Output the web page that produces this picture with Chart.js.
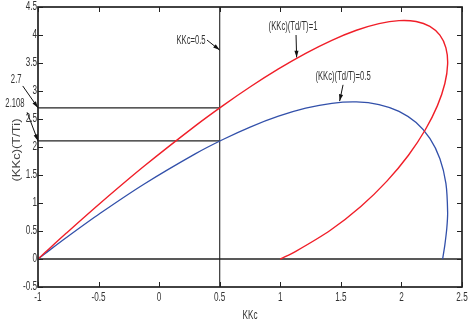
<!DOCTYPE html>
<html>
<head>
<meta charset="utf-8">
<script src="https://cdn.jsdelivr.net/npm/chart.js@4.4.1/dist/chart.umd.min.js"></script>
<style>
  html, body { margin: 0; padding: 0; background: #fff; }
  #wrap { width: 468px; height: 327px; }
</style>
</head>
<body>
<div id="wrap"><canvas id="mycanvas" width="468" height="327"></canvas></div>
<script>
// (KKc)(Td/T)=1 curve
var redKKc = [-1, -0.9403, -0.7653, -0.4866, -0.1228, 0.3012, 0.5267, 0.7561, 0.9851, 1.2097, 1.4255,
  1.6285, 1.8147, 1.9801, 2.1213, 2.2347, 2.3176, 2.3672, 2.3814, 2.3585, 2.2973, 2.1972, 2.0580,
  1.8802, 1.6648, 1.4134, 1.1280, 1];
var redKi = [0, 0.1189, 0.4631, 0.9959, 1.6598, 2.3818, 2.7392, 3.0803, 3.3947, 3.6728, 3.9054,
  4.0846, 4.2035, 4.2568, 4.2409, 4.1540, 3.9964, 3.7704, 3.4805, 3.1337, 2.7391, 2.3077, 1.8533,
  1.3910, 0.9381, 0.5135, 0.1372, 0];
// (KKc)(Td/T)=0.5 curve
var blueKKc = [-1, -0.9403, -0.7653, -0.4866, -0.1228, 0.3012, 0.5267, 0.7561, 0.9851, 1.2097, 1.4255,
  1.6285, 1.8147, 1.9801, 2.1213, 2.2347, 2.3176, 2.3672, 2.3814, 2.3747, 2.3585, 2.34];
var blueKi = [0, 0.0989, 0.3831, 0.8159, 1.3398, 1.8818, 2.1342, 2.3603, 2.5497, 2.6928, 2.7804,
  2.8046, 2.7585, 2.6368, 2.4359, 2.1540, 1.7914, 1.3504, 0.8355, 0.5525, 0.2537, 0];

var refKKc = [0.5];
var refLevels = [2.7, 2.108];
var xTicks = [-1, -0.5, 0, 0.5, 1, 1.5, 2, 2.5];
var yTicks = [-0.5, 0, 0.5, 1, 1.5, 2, 2.5, 3, 3.5, 4, 4.5];

var FONT = "'Liberation Sans', Arial, sans-serif";
var SQ = 0.64; // horizontal squeeze to mimic the narrow font

function pts(xs, ys) {
  return xs.map(function(x, i) { return {x: x, y: ys[i]}; });
}

var datasets = [
  { data: pts(redKKc, redKi), borderColor: 'rgb(240,30,40)', borderWidth: 1.4, tension: 0.3 },
  { data: pts(blueKKc, blueKi), borderColor: 'rgb(50,80,170)', borderWidth: 1.3, tension: 0.3 },
  { data: [{x: xTicks[0], y: 0}, {x: xTicks[xTicks.length - 1], y: 0}], borderColor: '#222', borderWidth: 1.3 },
  { data: [{x: refKKc[0], y: yTicks[0]}, {x: refKKc[0], y: yTicks[yTicks.length - 1]}], borderColor: '#222', borderWidth: 1.1 }
];
refLevels.forEach(function(v) {
  datasets.push({ data: [{x: xTicks[0], y: v}, {x: refKKc[0], y: v}], borderColor: '#222', borderWidth: 1.3 });
});
datasets.forEach(function(d) { d.showLine = true; d.pointRadius = 0; d.fill = false; });

// text + arrows, in data coordinates: text x,y then arrow from -> to
var notes = [
  { t: '2.7', tx: -1.18, ty: 3.21, x1: -1.126, y1: 3.09, x2: -1.0, y2: 2.7 },
  { t: '2.108', tx: -1.19, ty: 2.77, x1: -1.09, y1: 2.62, x2: -1.0, y2: 2.108 },
  { t: 'KKc=0.5', tx: 0.263, ty: 3.89, x1: 0.395, y1: 3.91, x2: 0.5, y2: 3.73 },
  { t: '(KKc)(Td/T)=1', tx: 1.105, ty: 4.14, x1: 1.13, y1: 4.0, x2: 1.135, y2: 3.6 },
  { t: '(KKc)(Td/T)=0.5', tx: 1.518, ty: 3.25, x1: 1.518, y1: 3.11, x2: 1.49, y2: 2.82 }
];

function squeezed(ctx, text, x, y, align, sx) {
  ctx.save();
  ctx.translate(x, y);
  ctx.scale(sx, 1);
  ctx.textAlign = align;
  ctx.fillText(text, 0, 0);
  ctx.restore();
}

var framePlugin = {
  id: 'frame',
  afterDatasetsDraw: function(chart) {
    var ctx = chart.ctx, a = chart.chartArea;
    var xs = chart.scales.x, ys = chart.scales.y;
    ctx.save();
    ctx.strokeStyle = '#222';
    ctx.lineWidth = 1;
    ctx.beginPath();
    xTicks.forEach(function(v) {
      var p = Math.round(xs.getPixelForValue(v)) + 0.5;
      ctx.moveTo(p, a.bottom); ctx.lineTo(p, a.bottom - 5);
      ctx.moveTo(p, a.top); ctx.lineTo(p, a.top + 5);
    });
    yTicks.forEach(function(v) {
      var p = Math.round(ys.getPixelForValue(v)) + 0.5;
      ctx.moveTo(a.left, p); ctx.lineTo(a.left + 5, p);
      ctx.moveTo(a.right, p); ctx.lineTo(a.right - 5, p);
    });
    ctx.stroke();
    ctx.lineWidth = 1.7;
    ctx.strokeRect(a.left, a.top, a.right - a.left, a.bottom - a.top);

    // tick labels and axis titles
    ctx.fillStyle = '#333';
    ctx.font = '12px ' + FONT;
    ctx.textBaseline = 'middle';
    xTicks.forEach(function(v) {
      squeezed(ctx, String(v), xs.getPixelForValue(v), a.bottom + 11, 'center', 0.68);
    });
    yTicks.forEach(function(v) {
      squeezed(ctx, String(v), a.left - 1, ys.getPixelForValue(v), 'right', 0.68);
    });
    squeezed(ctx, 'KKc', (a.left + a.right) / 2, a.bottom + 29, 'center', 0.68);
    ctx.save();
    ctx.fillStyle = '#444';
    ctx.translate(17, 150);
    ctx.rotate(-Math.PI / 2);
    ctx.scale(1.18, 1);
    ctx.font = '11px ' + FONT;
    ctx.textAlign = 'center';
    ctx.fillText('(KKc)(T/Ti)', 0, 0);
    ctx.restore();

    // annotations
    ctx.font = '12px ' + FONT;
    notes.forEach(function(n) {
      ctx.fillStyle = '#333';
      squeezed(ctx, n.t, xs.getPixelForValue(n.tx), ys.getPixelForValue(n.ty), 'center', SQ);
      var x1 = xs.getPixelForValue(n.x1), y1 = ys.getPixelForValue(n.y1);
      var x2 = xs.getPixelForValue(n.x2), y2 = ys.getPixelForValue(n.y2);
      var ang = Math.atan2(y2 - y1, x2 - x1);
      ctx.strokeStyle = '#111';
      ctx.lineWidth = 1;
      ctx.beginPath();
      ctx.moveTo(x1, y1); ctx.lineTo(x2, y2);
      ctx.stroke();
      ctx.fillStyle = '#111';
      ctx.beginPath();
      ctx.moveTo(x2, y2);
      ctx.lineTo(x2 - 7 * Math.cos(ang - 0.3), y2 - 7 * Math.sin(ang - 0.3));
      ctx.lineTo(x2 - 7 * Math.cos(ang + 0.3), y2 - 7 * Math.sin(ang + 0.3));
      ctx.closePath();
      ctx.fill();
    });
    ctx.restore();
  }
};

var ctx = document.getElementById('mycanvas');
var chart = new Chart(ctx, {
  type: 'scatter',
  data: { datasets: datasets },
  options: {
    responsive: false,
    animation: false,
    layout: { padding: { top: 7, right: 6, left: 0, bottom: 0 } },
    plugins: { legend: { display: false }, tooltip: { enabled: false } },
    scales: {
      x: {
        type: 'linear', min: -1, max: 2.5,
        afterFit: function(s) { s.height = 40; },
        afterBuildTicks: function(s) { s.ticks = xTicks.map(function(v) { return {value: v}; }); },
        grid: { display: false, drawTicks: false },
        border: { display: false },
        ticks: { display: false }
      },
      y: {
        type: 'linear', min: -0.5, max: 4.5,
        afterFit: function(s) { s.width = 38; },
        afterBuildTicks: function(s) { s.ticks = yTicks.map(function(v) { return {value: v}; }); },
        grid: { display: false, drawTicks: false },
        border: { display: false },
        ticks: { display: false }
      }
    }
  },
  plugins: [framePlugin]
});
</script>
</body>
</html>
